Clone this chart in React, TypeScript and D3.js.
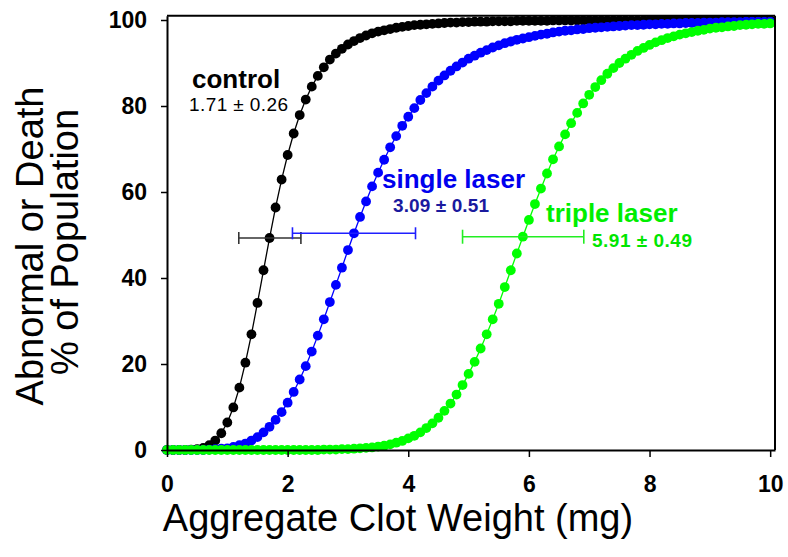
import React, { useEffect, useRef } from "react";
import * as d3 from "d3";

// aggregate clot weight grid (mg)
const weightsMg = [
    0, 0.1, 0.2, 0.3, 0.4, 0.5, 0.6, 0.7, 0.8, 0.9,
    1, 1.1, 1.2, 1.3, 1.4, 1.5, 1.6, 1.7, 1.8, 1.9,
    2, 2.1, 2.2, 2.3, 2.4, 2.5, 2.6, 2.7, 2.8, 2.9,
    3, 3.1, 3.2, 3.3, 3.4, 3.5, 3.6, 3.7, 3.8, 3.9,
    4, 4.1, 4.2, 4.3, 4.4, 4.5, 4.6, 4.7, 4.8, 4.9,
    5, 5.1, 5.2, 5.3, 5.4, 5.5, 5.6, 5.7, 5.8, 5.9,
    6, 6.1, 6.2, 6.3, 6.4, 6.5, 6.6, 6.7, 6.8, 6.9,
    7, 7.1, 7.2, 7.3, 7.4, 7.5, 7.6, 7.7, 7.8, 7.9,
    8, 8.1, 8.2, 8.3, 8.4, 8.5, 8.6, 8.7, 8.8, 8.9,
    9, 9.1, 9.2, 9.3, 9.4, 9.5, 9.6, 9.7, 9.8, 9.9,
    10
];

// % abnormal or dead
const controlPct = [
    0, 0, 0, 0, 0.1, 0.2, 0.5, 1.1, 2.2, 3.9,
    6.4, 9.9, 14.5, 20.3, 26.9, 34.2, 41.8, 49.3, 56.4, 62.9,
    68.6, 73.6, 77.9, 81.5, 84.5, 87.0, 89.0, 90.8, 92.2, 93.3,
    94.3, 95.1, 95.8, 96.4, 96.9, 97.3, 97.6, 97.9, 98.2, 98.4,
    98.6, 98.8, 98.9, 99.0, 99.1, 99.2, 99.3, 99.4, 99.4, 99.5,
    99.5, 99.6, 99.6, 99.6, 99.7, 99.7, 99.7, 99.7, 99.8, 99.8,
    99.8, 99.8, 99.8, 99.8, 99.9, 99.9, 99.9, 99.9, 99.9, 99.9,
    99.9, 99.9, 99.9, 99.9, 99.9, 99.9, 99.9, 99.9, 99.9, 99.9,
    100, 100, 100, 100, 100, 100, 100, 100, 100, 100,
    100, 100, 100, 100, 100, 100, 100, 100, 100, 100,
    100
];

const singleLaserPct = [
    0, 0, 0, 0, 0, 0, 0, 0.1, 0.2, 0.3,
    0.4, 0.7, 1.1, 1.5, 2.2, 3.0, 4.1, 5.4, 7.0, 8.8,
    11.0, 13.5, 16.4, 19.5, 22.9, 26.6, 30.4, 34.4, 38.4, 42.4,
    46.5, 50.4, 54.2, 57.8, 61.3, 64.5, 67.5, 70.4, 73.0, 75.4,
    77.5, 79.5, 81.4, 83.0, 84.5, 85.9, 87.1, 88.2, 89.2, 90.1,
    91.0, 91.7, 92.4, 93.0, 93.6, 94.1, 94.6, 95.0, 95.4, 95.7,
    96.0, 96.3, 96.6, 96.8, 97.1, 97.3, 97.5, 97.6, 97.8, 97.9,
    98.1, 98.2, 98.3, 98.4, 98.5, 98.6, 98.7, 98.8, 98.8, 98.9,
    99.0, 99.0, 99.1, 99.1, 99.2, 99.2, 99.3, 99.3, 99.3, 99.4,
    99.4, 99.4, 99.5, 99.5, 99.5, 99.5, 99.6, 99.6, 99.6, 99.6,
    99.6
];

const tripleLaserPct = [
    0, 0, 0, 0, 0, 0, 0, 0, 0, 0,
    0, 0, 0, 0, 0, 0, 0, 0, 0, 0,
    0, 0, 0, 0, 0, 0, 0.1, 0.1, 0.1, 0.2,
    0.2, 0.3, 0.4, 0.5, 0.6, 0.8, 1.0, 1.3, 1.7, 2.1,
    2.7, 3.3, 4.1, 5.1, 6.2, 7.5, 9.1, 10.8, 12.9, 15.1,
    17.7, 20.5, 23.6, 26.9, 30.4, 34.0, 37.9, 41.8, 45.7, 49.6,
    53.5, 57.2, 60.8, 64.3, 67.6, 70.6, 73.4, 76.0, 78.4, 80.6,
    82.6, 84.4, 86.0, 87.5, 88.8, 90.0, 91.0, 91.9, 92.8, 93.5,
    94.2, 94.8, 95.3, 95.8, 96.2, 96.6, 96.9, 97.2, 97.5, 97.7,
    98.0, 98.2, 98.3, 98.5, 98.6, 98.8, 98.9, 99.0, 99.1, 99.1,
    99.2
];

const seriesNames = ["control", "single laser", "triple laser"];
const ec50Labels = ["1.71", "3.09", "5.91"];
const sdLabels = ["0.26", "0.51", "0.49"];
// horizontal error bars around the 50% point
const barLowMg = [1.19, 2.08, 4.9];
const barHighMg = [2.22, 4.12, 6.91];
const barPct = [49.3, 50.4, 49.6];

const xTicks = [0, 2, 4, 6, 8, 10];
const yTicks = [0, 20, 40, 60, 80, 100];

const FONT = "'Liberation Sans', Arial, sans-serif";

const App = () => {
    const svgRef = useRef(null);
    const width = 788;
    const height = 557;

    useEffect(() => {
        const svg = d3.select(svgRef.current);
        svg.selectAll("*").remove();

        const xScale = d3.scaleLinear().domain([0, 10.08]).range([167, 775]);
        const yScale = d3.scaleLinear().domain([0, 101]).range([450, 15.7]);

        const allSeries = [controlPct, singleLaserPct, tripleLaserPct];
        const colors = ["#000000", "#0000ff", "#00ff00"];

        const line = d3
            .line<number>()
            .x((d, i) => xScale(weightsMg[i]))
            .y(d => yScale(d));

        // curves + dots, control first so triple laser sits on top
        allSeries.forEach((values, s) => {
            const g = svg.append("g");
            g.append("path")
                .datum(values)
                .attr("d", line)
                .attr("fill", "none")
                .attr("stroke", colors[s])
                .attr("stroke-width", 1.3);
            g.selectAll("circle")
                .data(values)
                .enter()
                .append("circle")
                .attr("cx", (d, i) => xScale(weightsMg[i]))
                .attr("cy", d => yScale(d))
                .attr("r", 4.9)
                .attr("fill", colors[s]);
        });

        // error bars
        const barColors = ["#333333", "#1f1fff", "#22ee22"];
        seriesNames.forEach((name, s) => {
            const g = svg.append("g")
                .attr("stroke", barColors[s])
                .attr("stroke-width", 1.6);
            const yb = yScale(barPct[s]);
            const x0 = xScale(barLowMg[s]);
            const x1 = xScale(barHighMg[s]);
            const cap = s === 2 ? 7 : 6;
            g.append("line").attr("x1", x0).attr("x2", x1).attr("y1", yb).attr("y2", yb);
            g.append("line").attr("x1", x0).attr("x2", x0).attr("y1", yb - cap).attr("y2", yb + cap);
            g.append("line").attr("x1", x1).attr("x2", x1).attr("y1", yb - cap).attr("y2", yb + cap);
        });

        // frame (top + right)
        svg.append("line")
            .attr("x1", xScale(0)).attr("x2", xScale(10.08))
            .attr("y1", yScale(101)).attr("y2", yScale(101))
            .attr("stroke", "#000").attr("stroke-width", 2);
        svg.append("line")
            .attr("x1", xScale(10.08)).attr("x2", xScale(10.08))
            .attr("y1", yScale(101)).attr("y2", yScale(0))
            .attr("stroke", "#000").attr("stroke-width", 2);

        // axes
        const xAxis = d3.axisBottom(xScale).tickValues(xTicks).tickSize(7).tickSizeOuter(0);
        const xAxisGroup = svg.append("g")
            .attr("transform", `translate(0, ${yScale(0)})`)
            .call(xAxis);
        xAxisGroup.select(".domain").attr("stroke-width", 2);
        xAxisGroup.selectAll(".tick line").attr("stroke-width", 1.5);
        xAxisGroup.selectAll(".tick text")
            .attr("y", 26)
            .attr("font-family", FONT)
            .attr("font-size", 23)
            .attr("font-weight", "bold")
            .attr("fill", "#000");

        const yAxis = d3.axisLeft(yScale).tickValues(yTicks).tickSize(6).tickSizeOuter(0);
        const yAxisGroup = svg.append("g")
            .attr("transform", `translate(${xScale(0)}, 0)`)
            .call(yAxis);
        yAxisGroup.select(".domain").attr("stroke-width", 2);
        yAxisGroup.selectAll(".tick line").attr("stroke-width", 1.5);
        yAxisGroup.selectAll(".tick text")
            .attr("x", -20)
            .attr("font-family", FONT)
            .attr("font-size", 23)
            .attr("font-weight", "bold")
            .attr("fill", "#000");

        // axis titles
        svg.append("text")
            .attr("x", 398)
            .attr("y", 531)
            .attr("text-anchor", "middle")
            .attr("font-family", FONT)
            .attr("font-size", 38)
            .text("Aggregate Clot Weight (mg)");

        const yTitle = svg.append("g").attr("transform", "rotate(-90)");
        yTitle.append("text")
            .attr("x", -246).attr("y", 43)
            .attr("text-anchor", "middle")
            .attr("font-family", FONT)
            .attr("font-size", 38)
            .text("Abnormal or Death");
        yTitle.append("text")
            .attr("x", -242).attr("y", 78)
            .attr("text-anchor", "middle")
            .attr("font-family", FONT)
            .attr("font-size", 38)
            .text("% of Population");

        // curve labels
        const nameColors = ["#000000", "#0000ee", "#00ee00"];
        const valueColors = ["#000000", "#1a1a9e", "#00e600"];
        const namePos = [[192, 88], [382, 188], [546, 222]];
        const valuePos = [[189, 111], [393, 212], [592, 247]];
        const valueLengths = [99, 96, 100];
        const valueWeights = ["normal", "bold", "bold"];

        seriesNames.forEach((name, s) => {
            svg.append("text")
                .attr("x", namePos[s][0]).attr("y", namePos[s][1])
                .attr("font-family", FONT)
                .attr("font-size", 26)
                .attr("font-weight", "bold")
                .attr("fill", nameColors[s])
                .text(name);
            svg.append("text")
                .attr("x", valuePos[s][0]).attr("y", valuePos[s][1])
                .attr("font-family", FONT)
                .attr("font-size", 19)
                .attr("font-weight", valueWeights[s])
                .attr("fill", valueColors[s])
                .attr("textLength", valueLengths[s])
                .attr("lengthAdjust", "spacing")
                .text(`${ec50Labels[s]} \u00B1 ${sdLabels[s]}`);
        });
    }, []);

    return (
        <svg
            ref={svgRef}
            width={width}
            height={height}
            style={{ position: "absolute", left: 0, top: 0, background: "#fff" }}
        />
    );
};

export default App;
